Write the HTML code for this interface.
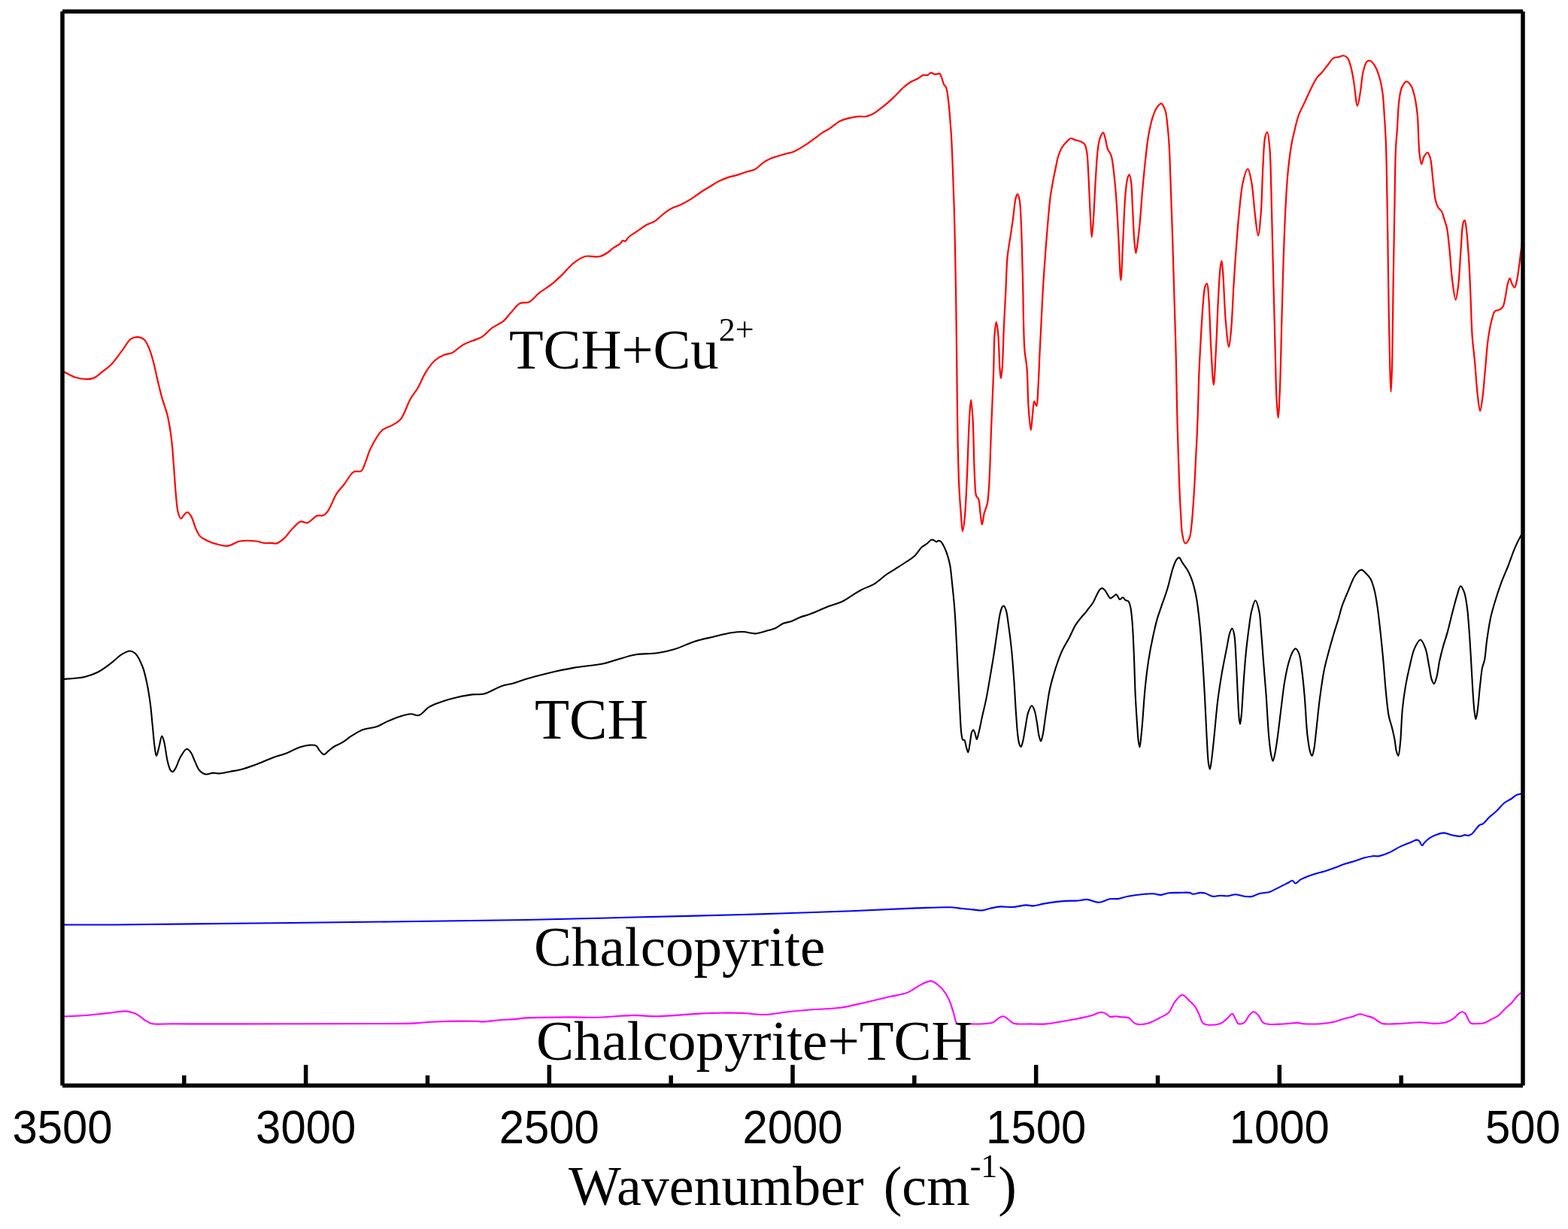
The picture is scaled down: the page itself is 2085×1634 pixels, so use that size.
<!DOCTYPE html>
<html><head><meta charset="utf-8"><title>FTIR spectra</title>
<style>html,body{margin:0;padding:0;background:#fff;}body{width:2085px;height:1634px;overflow:hidden;}svg{display:block;}</style>
</head><body>
<svg width="2085" height="1634" viewBox="0 0 2085 1634"><path d="M84.0,1229.5 C95.2,1229.5 122.4,1229.7 151.0,1229.5 C202.2,1229.2 285.7,1228.1 365.0,1227.2 C464.2,1226.0 611.6,1224.6 700.0,1223.0 C758.0,1221.9 795.9,1220.7 843.9,1219.5 C891.9,1218.3 939.8,1217.4 987.8,1216.0 C1035.8,1214.6 1089.8,1212.8 1131.7,1211.2 C1164.1,1209.9 1193.7,1208.2 1218.0,1207.4 C1235.7,1206.8 1252.6,1205.8 1264.0,1206.3 C1270.7,1206.6 1274.8,1207.5 1280.0,1208.0 C1284.8,1208.5 1289.6,1209.0 1294.1,1209.4 C1298.3,1209.8 1302.4,1210.7 1306.2,1210.4 C1309.7,1210.1 1312.6,1208.6 1316.3,1207.8 C1320.6,1206.9 1325.5,1205.7 1330.4,1205.4 C1335.6,1205.1 1341.0,1206.3 1346.5,1206.0 C1352.4,1205.7 1359.6,1203.5 1364.6,1203.4 C1368.1,1203.3 1370.3,1204.5 1373.7,1204.4 C1378.1,1204.2 1383.0,1202.3 1388.8,1201.4 C1396.7,1200.1 1408.9,1198.5 1417.0,1197.9 C1423.1,1197.4 1428.1,1197.9 1433.1,1197.5 C1437.4,1197.2 1440.9,1195.7 1445.2,1195.9 C1450.2,1196.2 1456.1,1200.0 1461.3,1199.8 C1466.2,1199.6 1470.8,1196.1 1475.4,1195.3 C1479.5,1194.6 1483.5,1195.5 1487.5,1194.9 C1491.6,1194.3 1494.9,1192.6 1499.6,1191.7 C1505.8,1190.5 1515.4,1189.2 1521.7,1188.7 C1526.3,1188.3 1530.0,1188.1 1533.8,1188.3 C1537.3,1188.5 1540.5,1190.1 1543.9,1189.9 C1547.3,1189.7 1550.3,1187.8 1554.0,1187.3 C1558.3,1186.7 1563.4,1187.0 1568.1,1186.9 C1572.8,1186.8 1579.0,1186.2 1582.2,1186.9 C1584.0,1187.3 1584.5,1188.5 1586.2,1188.7 C1588.8,1189.0 1593.4,1187.0 1596.3,1186.9 C1598.6,1186.8 1600.1,1186.9 1602.3,1187.5 C1605.3,1188.3 1609.0,1191.2 1612.4,1191.7 C1615.7,1192.2 1619.1,1190.8 1622.5,1190.7 C1625.8,1190.6 1629.2,1191.5 1632.5,1191.3 C1635.9,1191.1 1639.1,1189.3 1642.6,1189.3 C1646.5,1189.3 1650.8,1191.3 1654.7,1191.7 C1658.2,1192.1 1661.5,1192.5 1664.8,1191.9 C1668.2,1191.3 1671.2,1188.8 1674.8,1187.9 C1678.6,1186.9 1684.2,1187.0 1686.9,1186.3 C1688.3,1185.9 1688.6,1185.7 1690.0,1185.1 C1692.9,1183.8 1699.0,1180.6 1703.0,1178.6 C1706.5,1176.9 1710.0,1175.1 1712.8,1173.7 C1715.0,1172.6 1716.8,1170.6 1718.5,1170.8 C1720.1,1171.0 1721.0,1174.4 1722.6,1174.5 C1724.5,1174.6 1726.4,1171.2 1729.1,1169.6 C1732.9,1167.4 1738.5,1165.4 1743.8,1163.5 C1749.8,1161.4 1757.8,1159.5 1763.4,1157.7 C1767.7,1156.3 1770.9,1155.2 1774.8,1153.8 C1779.0,1152.3 1783.4,1150.3 1787.8,1148.8 C1792.1,1147.3 1796.6,1146.3 1800.9,1144.9 C1805.3,1143.5 1809.7,1141.7 1813.9,1140.6 C1817.8,1139.5 1821.9,1138.6 1825.4,1138.2 C1828.3,1137.9 1830.5,1138.7 1833.5,1138.2 C1837.4,1137.6 1842.1,1135.7 1846.6,1133.8 C1851.8,1131.5 1857.7,1127.5 1862.9,1125.1 C1867.4,1123.0 1872.1,1121.4 1875.9,1119.9 C1878.9,1118.7 1882.0,1116.5 1884.1,1116.6 C1885.4,1116.7 1886.3,1117.4 1887.3,1118.3 C1888.7,1119.6 1889.7,1124.2 1890.9,1124.3 C1891.9,1124.4 1892.6,1122.0 1893.8,1120.7 C1895.5,1118.9 1897.8,1116.5 1900.4,1114.7 C1903.2,1112.8 1906.9,1111.0 1910.2,1109.8 C1913.4,1108.6 1916.5,1107.4 1919.9,1107.4 C1923.6,1107.4 1927.5,1109.8 1931.4,1110.5 C1935.2,1111.2 1939.8,1112.1 1942.8,1111.8 C1944.8,1111.6 1946.0,1110.2 1947.7,1110.1 C1949.3,1110.0 1951.0,1111.1 1952.6,1110.9 C1954.3,1110.6 1955.7,1109.8 1957.4,1108.5 C1960.3,1106.2 1964.3,1099.2 1967.2,1097.1 C1968.9,1095.8 1970.4,1096.3 1972.1,1095.1 C1974.7,1093.4 1977.4,1089.3 1980.3,1086.5 C1983.3,1083.6 1986.9,1081.3 1990.1,1078.3 C1993.5,1075.1 1996.5,1070.5 2000.0,1067.7 C2003.1,1065.2 2006.7,1063.9 2009.6,1062.0 C2012.1,1060.4 2014.0,1058.2 2016.2,1057.1 C2018.1,1056.2 2020.3,1056.0 2021.9,1055.5 C2023.1,1055.1 2024.5,1054.7 2025.0,1054.5" stroke="#0000ff" stroke-width="2.1" fill="none" stroke-linejoin="round"/>
<path d="M84.5,1351.5 C88.7,1351.3 101.0,1350.9 109.7,1350.3 C119.2,1349.6 130.8,1348.3 139.5,1347.4 C146.2,1346.7 152.4,1345.8 157.3,1345.3 C160.8,1344.9 163.2,1344.3 166.2,1344.4 C169.2,1344.5 172.4,1345.1 175.2,1345.9 C177.8,1346.6 180.0,1347.4 182.6,1348.8 C185.9,1350.6 189.6,1354.5 193.0,1356.6 C196.0,1358.4 198.0,1360.1 201.9,1361.0 C208.3,1362.5 216.2,1361.2 228.7,1361.3 C258.2,1361.5 330.6,1361.4 377.4,1361.3 C419.2,1361.2 464.0,1361.2 496.3,1361.0 C518.6,1360.9 538.6,1361.1 552.8,1360.4 C561.4,1360.0 564.9,1359.1 573.6,1358.7 C588.3,1358.0 622.0,1357.5 633.1,1357.8 C637.4,1357.9 638.3,1358.5 642.0,1358.4 C648.0,1358.3 658.4,1356.6 665.8,1356.0 C672.2,1355.5 677.8,1355.5 683.6,1355.1 C689.2,1354.7 692.9,1353.8 700.0,1353.4 C713.3,1352.6 740.5,1352.5 757.6,1352.4 C771.4,1352.3 781.7,1353.0 795.0,1352.7 C810.2,1352.3 829.7,1350.0 843.9,1349.9 C854.8,1349.9 861.5,1351.4 872.7,1351.3 C888.6,1351.2 914.3,1348.4 930.2,1347.6 C941.4,1347.1 949.4,1346.8 959.0,1346.7 C968.6,1346.6 978.2,1346.6 987.8,1347.0 C997.4,1347.4 1006.9,1349.2 1016.5,1349.0 C1026.1,1348.8 1035.7,1346.6 1045.3,1345.5 C1054.9,1344.5 1063.5,1343.6 1074.1,1342.7 C1087.0,1341.6 1104.1,1341.6 1117.3,1339.8 C1128.7,1338.2 1138.1,1335.6 1148.9,1333.2 C1160.2,1330.7 1173.1,1327.6 1183.5,1325.1 C1191.9,1323.1 1199.6,1322.4 1206.5,1319.6 C1212.9,1317.1 1218.1,1312.2 1223.7,1309.6 C1228.6,1307.3 1233.7,1303.9 1238.1,1304.4 C1242.3,1304.8 1246.0,1308.3 1249.6,1311.6 C1253.9,1315.6 1258.1,1321.6 1261.2,1327.4 C1264.4,1333.5 1266.2,1341.6 1268.3,1347.6 C1270.0,1352.4 1269.5,1358.1 1272.7,1360.5 C1276.3,1363.2 1284.1,1361.3 1290.1,1361.4 C1296.6,1361.5 1304.7,1361.5 1310.3,1361.0 C1314.3,1360.6 1317.4,1360.7 1320.4,1359.4 C1323.4,1358.1 1325.9,1354.7 1328.4,1353.3 C1330.4,1352.2 1332.3,1351.1 1334.1,1351.3 C1336.0,1351.5 1337.6,1353.0 1339.5,1354.3 C1342.0,1355.9 1343.9,1359.1 1347.6,1360.4 C1353.1,1362.4 1363.3,1361.2 1370.7,1361.4 C1377.7,1361.6 1384.2,1361.9 1390.9,1361.4 C1397.6,1360.9 1404.3,1359.4 1411.0,1358.3 C1417.7,1357.2 1424.5,1356.0 1431.2,1354.7 C1437.9,1353.4 1445.4,1352.0 1451.3,1350.3 C1456.2,1348.9 1460.7,1345.7 1464.4,1345.7 C1467.1,1345.7 1469.6,1347.2 1471.5,1348.3 C1473.1,1349.2 1473.8,1351.1 1475.5,1351.7 C1477.6,1352.4 1480.8,1351.2 1483.5,1351.3 C1486.2,1351.4 1488.8,1352.0 1491.6,1352.3 C1494.5,1352.6 1497.9,1352.1 1500.7,1353.3 C1503.9,1354.7 1506.0,1359.6 1509.7,1361.0 C1514.1,1362.6 1520.5,1362.0 1525.8,1360.8 C1531.3,1359.5 1537.1,1355.9 1542.0,1353.3 C1546.4,1351.0 1550.7,1349.6 1554.0,1346.3 C1557.5,1342.7 1558.9,1336.2 1562.1,1332.2 C1565.0,1328.5 1568.8,1322.8 1572.2,1322.7 C1575.5,1322.6 1579.3,1328.6 1582.2,1331.2 C1584.5,1333.3 1586.4,1334.7 1588.3,1337.2 C1590.6,1340.2 1592.3,1344.5 1594.3,1348.3 C1596.4,1352.3 1596.7,1358.5 1600.4,1360.8 C1605.1,1363.8 1616.8,1362.9 1622.5,1361.0 C1626.8,1359.6 1629.7,1355.7 1632.6,1353.3 C1634.9,1351.4 1636.9,1347.7 1638.6,1347.9 C1640.2,1348.1 1641.4,1352.1 1642.7,1354.3 C1644.1,1356.5 1644.7,1360.1 1646.7,1361.0 C1648.7,1361.9 1652.5,1360.9 1654.8,1359.4 C1657.4,1357.7 1658.6,1352.8 1660.8,1350.3 C1662.7,1348.2 1664.8,1345.4 1666.9,1345.3 C1668.9,1345.2 1670.9,1347.4 1672.9,1349.3 C1675.6,1351.9 1676.7,1358.2 1681.0,1360.4 C1687.0,1363.6 1700.5,1361.4 1708.5,1361.2 C1714.8,1361.0 1720.7,1359.7 1725.3,1359.9 C1728.6,1360.0 1730.2,1360.9 1733.7,1361.2 C1739.3,1361.6 1748.7,1361.6 1755.5,1361.2 C1761.5,1360.8 1766.7,1360.2 1772.3,1359.0 C1777.9,1357.8 1784.4,1355.2 1789.1,1354.0 C1792.4,1353.1 1794.5,1352.9 1797.5,1352.0 C1800.9,1351.0 1804.9,1348.4 1808.4,1348.3 C1811.6,1348.2 1814.7,1349.9 1817.7,1350.8 C1820.6,1351.6 1823.1,1352.0 1826.0,1353.3 C1829.7,1355.0 1832.8,1359.3 1837.8,1360.7 C1844.7,1362.7 1856.0,1361.0 1864.7,1360.7 C1872.8,1360.4 1880.8,1359.1 1888.2,1359.2 C1894.7,1359.3 1900.6,1361.0 1906.6,1360.9 C1912.3,1360.8 1918.6,1360.5 1923.4,1359.0 C1927.3,1357.8 1930.7,1355.7 1933.5,1353.6 C1935.9,1351.9 1937.4,1349.2 1939.4,1347.8 C1941.0,1346.6 1942.8,1345.2 1944.4,1345.3 C1945.9,1345.4 1947.2,1346.4 1948.6,1347.8 C1950.9,1350.2 1952.1,1357.9 1955.3,1360.0 C1958.0,1361.8 1962.2,1360.9 1965.4,1360.9 C1968.3,1360.9 1971.1,1360.8 1973.8,1360.0 C1976.7,1359.1 1979.3,1357.2 1982.2,1355.7 C1985.4,1354.0 1989.0,1352.7 1992.2,1350.3 C1995.8,1347.6 1999.0,1343.3 2002.3,1340.2 C2005.2,1337.5 2008.2,1335.4 2010.7,1332.7 C2013.2,1330.1 2015.3,1326.4 2017.4,1324.3 C2018.9,1322.8 2020.2,1321.8 2021.6,1320.9 C2022.8,1320.1 2024.4,1319.3 2025.0,1319.0" stroke="#ff00ff" stroke-width="2.1" fill="none" stroke-linejoin="round"/>
<path d="M84.8,902.9 C87.2,902.7 94.5,902.3 99.2,901.8 C103.8,901.3 107.9,901.1 112.6,899.9 C118.1,898.5 124.3,896.5 129.9,893.7 C135.8,890.7 141.6,886.2 147.1,882.2 C152.5,878.2 157.7,872.5 162.5,869.7 C166.2,867.5 169.9,865.4 173.0,865.5 C175.5,865.6 177.6,866.8 179.8,868.8 C183.3,872.1 186.9,879.8 189.4,886.0 C192.1,892.5 193.4,899.5 195.1,907.1 C197.0,915.9 198.6,926.3 199.9,935.9 C201.2,945.5 201.8,955.1 202.8,964.7 C203.8,974.3 204.6,986.1 205.7,993.5 C206.4,998.2 207.1,1005.0 208.0,1005.0 C209.0,1005.0 210.3,997.6 211.4,993.5 C212.7,988.8 214.0,978.6 215.3,978.5 C216.2,978.4 217.2,982.5 218.1,985.8 C219.8,991.9 221.1,1005.7 222.9,1012.7 C224.1,1017.4 225.2,1022.1 226.8,1024.2 C227.6,1025.3 228.7,1026.2 229.6,1026.1 C230.9,1025.9 232.2,1023.5 233.5,1021.3 C235.7,1017.7 237.5,1010.4 240.2,1006.0 C242.6,1002.1 245.9,996.0 248.4,995.8 C250.2,995.6 252.0,998.1 253.6,1000.2 C255.8,1003.1 257.4,1008.6 259.4,1012.7 C261.3,1016.6 262.5,1021.3 265.1,1024.2 C267.4,1026.7 270.7,1029.0 273.8,1029.5 C276.8,1030.0 280.4,1027.7 283.4,1027.6 C286.1,1027.5 288.0,1028.5 291.0,1028.4 C295.2,1028.3 301.4,1026.6 306.4,1025.7 C311.0,1024.9 315.0,1024.4 319.8,1023.2 C325.7,1021.7 332.2,1019.4 339.0,1016.9 C346.8,1014.1 356.5,1009.5 363.9,1006.9 C369.6,1004.9 373.9,1004.1 379.3,1002.1 C385.4,999.8 392.6,995.4 398.5,993.5 C403.3,991.9 407.9,990.8 411.9,990.6 C415.1,990.4 418.3,990.3 420.5,991.6 C422.7,992.9 423.5,996.3 425.3,998.3 C427.0,1000.1 428.8,1003.0 430.7,1003.1 C432.6,1003.2 434.6,1000.0 436.8,998.3 C439.2,996.4 441.7,994.2 444.5,992.5 C447.4,990.7 450.6,989.8 454.1,987.7 C458.7,985.0 464.4,980.2 469.4,977.2 C474.0,974.4 478.0,971.8 483.0,970.0 C488.5,968.0 495.7,968.0 501.1,966.1 C505.9,964.4 509.3,961.7 514.0,959.6 C519.5,957.1 526.4,954.2 532.2,952.4 C537.2,950.9 542.0,949.4 546.4,949.3 C550.1,949.2 553.3,952.0 556.8,951.1 C561.4,949.9 565.9,942.7 571.0,939.7 C575.9,936.8 580.9,935.2 586.5,933.2 C592.9,931.0 600.3,928.9 607.3,927.3 C614.2,925.7 621.6,924.2 628.0,923.4 C633.5,922.7 637.9,923.9 643.5,922.6 C650.6,920.9 659.7,914.6 666.8,912.2 C672.4,910.3 677.2,910.1 682.4,908.6 C687.6,907.1 691.8,905.1 697.9,903.2 C706.4,900.6 718.4,897.4 729.0,894.9 C740.0,892.3 751.0,889.9 762.7,887.9 C775.1,885.7 791.5,884.6 801.5,882.5 C807.9,881.2 811.1,879.8 817.1,878.1 C825.2,875.9 836.0,871.9 845.6,870.3 C855.0,868.7 865.0,869.5 874.0,868.2 C882.2,867.0 889.5,865.4 897.4,863.0 C905.9,860.4 914.6,855.7 923.3,852.9 C931.8,850.2 940.7,848.5 949.1,846.5 C957.1,844.6 965.5,842.4 972.5,841.3 C978.2,840.4 982.8,839.8 988.0,840.0 C993.2,840.2 999.3,842.4 1003.6,842.4 C1006.7,842.4 1008.7,841.6 1011.5,841.0 C1014.7,840.3 1018.3,839.1 1021.6,838.1 C1024.8,837.2 1027.8,836.7 1030.9,835.3 C1034.5,833.7 1038.0,830.3 1041.7,828.8 C1045.0,827.4 1048.4,827.5 1051.8,826.3 C1055.6,825.0 1059.4,822.4 1063.3,820.9 C1067.1,819.4 1070.8,818.7 1074.8,817.3 C1079.4,815.7 1084.7,813.4 1089.2,811.5 C1093.3,809.8 1096.4,808.2 1100.7,806.5 C1106.1,804.4 1113.9,802.6 1119.4,800.0 C1124.3,797.7 1128.1,794.7 1132.4,792.1 C1136.7,789.5 1140.6,786.7 1145.3,784.2 C1150.6,781.4 1157.1,779.6 1162.6,776.3 C1168.2,772.9 1173.5,767.5 1178.4,764.0 C1182.5,761.2 1185.9,759.4 1189.9,756.8 C1194.4,753.9 1199.8,750.5 1204.3,747.5 C1208.4,744.8 1212.3,742.8 1215.8,739.6 C1219.5,736.2 1223.1,729.8 1225.9,727.3 C1227.4,725.9 1228.7,725.6 1230.0,724.7 C1231.3,723.8 1232.5,722.9 1233.8,721.8 C1235.3,720.5 1236.9,717.9 1238.5,717.5 C1239.8,717.2 1241.2,718.1 1242.3,718.6 C1243.4,719.1 1244.3,720.5 1245.2,720.5 C1245.9,720.5 1246.3,719.2 1247.1,719.0 C1248.1,718.8 1249.8,719.2 1250.9,719.9 C1252.1,720.7 1252.7,722.1 1253.7,723.7 C1255.2,726.3 1257.1,730.2 1258.5,734.2 C1260.3,739.1 1262.0,745.0 1263.2,751.3 C1264.6,758.7 1265.2,767.4 1266.1,775.9 C1267.1,785.0 1268.1,794.9 1268.9,804.4 C1269.7,813.9 1270.2,822.7 1270.8,832.9 C1271.5,844.7 1272.1,858.2 1272.7,870.9 C1273.3,883.5 1274.0,896.2 1274.6,908.8 C1275.2,921.5 1275.8,935.0 1276.5,946.8 C1277.1,957.0 1277.4,968.6 1278.4,975.3 C1278.9,979.0 1279.2,982.9 1280.3,983.8 C1280.8,984.2 1281.7,983.4 1282.3,983.8 C1283.6,984.8 1283.9,990.0 1284.8,992.9 C1285.6,995.5 1286.5,1000.3 1287.3,1000.3 C1288.3,1000.2 1289.0,992.2 1289.8,987.9 C1290.7,983.2 1291.0,976.1 1292.2,973.1 C1292.8,971.7 1293.6,970.2 1294.2,970.2 C1295.0,970.3 1295.7,972.9 1296.4,974.7 C1297.3,977.0 1298.0,983.0 1298.8,983.0 C1299.6,983.0 1300.4,978.2 1301.3,974.7 C1302.8,969.0 1304.6,959.2 1306.3,951.6 C1307.9,944.3 1309.6,937.8 1311.2,930.1 C1313.0,921.4 1314.6,911.5 1316.2,902.0 C1317.9,892.2 1319.6,882.4 1321.2,872.2 C1322.9,861.5 1324.6,849.0 1326.1,839.2 C1327.3,831.3 1328.1,823.6 1329.4,817.7 C1330.4,813.4 1331.4,808.7 1332.7,806.9 C1333.3,806.1 1334.1,805.4 1334.7,805.6 C1335.7,805.9 1336.8,808.6 1337.7,811.1 C1339.2,815.6 1339.9,823.4 1341.0,830.9 C1342.4,840.5 1343.9,852.3 1345.1,864.0 C1346.4,877.0 1347.4,891.5 1348.4,905.3 C1349.4,919.1 1350.0,933.8 1350.9,946.6 C1351.7,957.8 1352.4,970.1 1353.4,978.0 C1354.0,982.8 1354.5,987.0 1355.5,989.6 C1356.1,991.1 1356.9,993.0 1357.5,992.9 C1358.4,992.8 1359.2,989.1 1360.0,986.3 C1361.3,981.8 1362.1,974.4 1363.3,968.1 C1364.6,961.2 1365.4,952.0 1367.4,946.6 C1368.7,943.1 1370.7,938.3 1372.1,938.3 C1373.4,938.3 1374.7,942.2 1375.7,945.0 C1377.2,949.2 1378.0,956.0 1379.0,961.5 C1380.0,967.0 1380.4,973.6 1381.5,978.0 C1382.2,981.0 1383.2,985.5 1384.0,985.5 C1384.8,985.5 1385.6,981.3 1386.4,978.0 C1387.9,971.7 1389.1,959.5 1390.6,949.9 C1392.2,939.7 1393.6,927.7 1395.5,918.5 C1397.0,911.1 1398.7,905.1 1400.5,898.7 C1402.3,892.5 1404.2,886.4 1406.3,880.5 C1408.3,874.8 1410.3,869.4 1412.9,864.0 C1415.5,858.4 1419.1,853.0 1422.0,847.4 C1424.9,841.9 1427.4,835.5 1430.2,830.9 C1432.4,827.3 1434.6,824.6 1436.9,821.8 C1439.0,819.2 1441.5,816.8 1443.5,814.4 C1445.3,812.2 1446.8,810.0 1448.4,807.8 C1450.1,805.6 1451.9,803.7 1453.4,801.2 C1455.2,798.3 1456.7,794.3 1458.3,791.2 C1459.7,788.5 1460.9,785.3 1462.5,783.8 C1463.5,782.8 1464.7,782.0 1465.8,782.1 C1466.9,782.2 1468.0,783.4 1469.1,784.6 C1470.5,786.2 1471.9,789.3 1473.2,791.2 C1474.3,792.8 1475.2,795.2 1476.5,795.4 C1477.7,795.6 1479.4,793.8 1480.7,792.9 C1481.9,792.1 1483.0,790.3 1484.0,790.4 C1484.9,790.5 1485.6,791.9 1486.4,792.9 C1487.3,794.1 1487.8,796.8 1488.9,797.0 C1490.0,797.2 1491.8,794.0 1493.1,794.2 C1494.3,794.4 1495.1,797.0 1496.4,797.9 C1497.6,798.7 1499.4,798.4 1500.5,799.5 C1501.8,800.8 1502.3,803.3 1503.0,806.1 C1504.2,810.9 1504.8,818.0 1505.5,826.0 C1506.6,838.2 1507.2,856.5 1507.9,872.2 C1508.6,888.4 1508.9,906.0 1509.6,921.8 C1510.3,936.2 1511.3,951.6 1512.1,963.1 C1512.7,971.4 1512.9,979.0 1513.7,984.6 C1514.2,988.2 1514.9,993.5 1515.5,993.5 C1516.2,993.5 1516.9,983.4 1517.5,978.0 C1518.2,972.1 1518.6,967.0 1519.2,959.4 C1520.2,947.5 1521.3,928.0 1522.8,913.6 C1524.1,900.6 1525.6,888.3 1527.4,876.8 C1529.0,866.5 1530.9,856.7 1532.9,847.5 C1534.7,839.1 1536.5,830.8 1538.5,823.6 C1540.2,817.5 1542.0,813.1 1544.0,807.1 C1546.4,799.9 1549.7,791.5 1552.2,783.2 C1554.9,774.4 1557.2,762.7 1559.6,755.7 C1561.1,751.1 1562.4,747.2 1564.1,744.7 C1565.2,743.1 1566.6,741.2 1567.8,741.4 C1569.4,741.6 1570.7,745.9 1572.4,748.4 C1574.3,751.2 1576.8,754.0 1578.8,757.5 C1581.2,761.7 1583.4,766.7 1585.3,772.2 C1587.5,778.7 1589.2,785.9 1590.8,794.2 C1592.8,804.8 1594.1,818.0 1595.4,831.0 C1596.9,845.4 1597.9,861.5 1599.0,876.8 C1600.1,892.1 1600.9,906.7 1601.8,922.7 C1602.8,940.2 1603.6,961.3 1604.5,977.8 C1605.3,991.3 1605.8,1006.6 1606.9,1014.5 C1607.5,1018.3 1608.2,1022.8 1608.8,1022.8 C1609.5,1022.8 1610.3,1015.8 1611.0,1010.8 C1612.2,1002.5 1613.4,989.7 1614.6,977.8 C1616.1,963.8 1617.4,946.3 1619.2,931.9 C1620.8,919.0 1622.7,907.1 1624.7,895.2 C1626.6,883.9 1629.1,872.1 1631.1,862.2 C1632.7,854.1 1633.9,844.6 1635.7,840.1 C1636.6,837.9 1637.7,835.4 1638.5,835.5 C1639.6,835.6 1640.5,840.1 1641.2,843.8 C1642.6,851.1 1642.9,864.9 1643.6,876.8 C1644.4,890.8 1645.1,908.6 1645.8,922.7 C1646.4,934.6 1646.9,948.9 1647.7,955.8 C1648.1,959.0 1648.6,962.7 1649.0,962.7 C1649.6,962.7 1650.2,955.5 1650.8,950.3 C1651.7,941.3 1652.3,926.5 1653.2,913.6 C1654.2,899.2 1655.4,881.5 1656.8,867.7 C1657.9,856.3 1659.2,846.2 1660.5,836.5 C1661.7,828.0 1662.5,819.5 1664.2,812.6 C1665.6,807.2 1667.6,798.3 1669.3,798.3 C1671.0,798.3 1673.1,807.0 1674.3,812.6 C1676.0,820.2 1676.1,830.3 1677.0,840.1 C1678.0,851.4 1678.8,863.9 1679.8,876.8 C1680.9,891.2 1682.3,906.7 1683.5,922.7 C1684.8,940.2 1685.8,963.2 1687.1,977.8 C1688.0,987.4 1688.7,995.5 1689.9,1001.7 C1690.7,1005.8 1691.7,1011.8 1692.6,1011.8 C1693.5,1011.8 1694.5,1005.8 1695.4,1001.7 C1696.7,995.5 1697.9,986.6 1699.1,977.8 C1700.6,966.9 1702.1,953.2 1703.6,941.1 C1705.1,929.3 1706.4,916.9 1708.2,906.2 C1709.8,896.9 1711.5,887.8 1713.7,880.5 C1715.4,874.8 1717.3,868.9 1719.3,865.8 C1720.4,864.0 1721.7,862.1 1722.9,862.2 C1724.4,862.4 1726.3,866.3 1727.5,869.5 C1729.5,874.7 1730.1,883.2 1731.2,891.5 C1732.6,902.2 1733.8,915.0 1734.9,928.2 C1736.2,943.5 1736.9,964.6 1738.5,977.8 C1739.6,986.6 1740.7,995.1 1742.2,999.8 C1742.9,1002.2 1743.9,1005.1 1744.6,1005.0 C1745.5,1004.9 1746.4,1000.0 1747.2,996.2 C1748.6,989.6 1749.3,978.7 1750.5,968.6 C1751.9,956.4 1753.3,941.3 1755.0,928.2 C1756.7,915.7 1758.4,902.6 1760.6,891.5 C1762.5,882.1 1764.7,874.3 1767.0,865.8 C1769.3,857.2 1772.0,847.9 1774.3,840.1 C1776.3,833.5 1778.3,827.8 1780.0,822.0 C1781.5,816.8 1782.3,812.4 1784.1,807.1 C1786.2,800.8 1789.3,793.8 1792.2,786.9 C1795.3,779.6 1798.5,769.7 1802.3,764.6 C1804.8,761.2 1807.9,757.6 1810.4,757.6 C1812.6,757.6 1814.6,760.7 1816.5,762.6 C1818.6,764.7 1820.8,766.7 1822.5,769.7 C1824.7,773.6 1826.2,779.2 1827.6,784.8 C1829.3,791.5 1830.4,798.8 1831.6,807.1 C1833.1,817.3 1834.4,829.5 1835.7,841.4 C1837.1,854.3 1838.5,868.3 1839.7,881.8 C1840.9,895.3 1841.8,909.7 1843.1,922.2 C1844.2,933.0 1845.2,944.3 1846.8,952.5 C1847.9,958.2 1849.6,961.8 1850.8,966.7 C1852.1,971.9 1853.4,977.4 1854.4,982.8 C1855.4,988.2 1855.8,995.0 1856.9,999.0 C1857.6,1001.5 1858.6,1005.1 1859.3,1005.0 C1860.4,1004.9 1861.1,995.7 1861.9,988.9 C1863.2,977.4 1863.5,956.2 1864.9,942.4 C1866.0,931.2 1867.4,921.6 1869.0,912.1 C1870.5,903.6 1872.0,896.1 1874.0,887.9 C1876.1,879.3 1878.0,868.3 1881.1,861.6 C1883.3,856.9 1886.4,850.4 1888.8,850.5 C1891.1,850.6 1893.5,857.0 1895.3,861.6 C1897.7,868.0 1898.8,878.4 1900.3,885.9 C1901.6,892.4 1902.4,899.9 1903.9,904.0 C1904.8,906.3 1905.8,909.2 1906.8,909.1 C1908.0,909.0 1909.3,903.8 1910.4,900.0 C1912.0,894.3 1912.8,885.0 1914.4,877.8 C1915.9,870.9 1917.7,863.9 1919.5,857.6 C1921.1,851.9 1922.8,847.6 1924.5,841.4 C1926.8,833.3 1929.3,821.9 1931.6,813.1 C1933.7,805.2 1935.7,797.1 1937.7,790.9 C1939.2,786.3 1940.4,779.4 1942.1,779.2 C1943.5,779.1 1945.5,783.6 1946.8,786.9 C1948.8,791.9 1949.7,799.4 1950.8,807.1 C1952.2,817.0 1952.9,829.5 1953.8,841.4 C1954.8,854.3 1955.5,868.0 1956.3,881.8 C1957.2,896.3 1958.0,914.0 1958.9,926.3 C1959.5,935.0 1960.1,943.0 1960.9,948.5 C1961.4,951.7 1961.9,956.2 1962.5,956.2 C1963.3,956.2 1964.2,947.9 1965.0,942.4 C1966.1,934.3 1966.9,921.6 1968.0,912.1 C1969.0,903.6 1969.7,894.2 1971.0,887.9 C1971.9,883.8 1973.1,882.0 1974.0,877.8 C1975.4,871.1 1975.8,860.6 1977.1,851.5 C1978.5,841.7 1980.1,830.5 1982.1,821.2 C1983.9,813.2 1985.9,806.5 1988.2,799.0 C1990.6,791.1 1993.4,782.6 1996.3,774.7 C1999.1,767.1 2002.4,760.1 2005.4,752.5 C2008.5,744.6 2011.3,735.5 2014.4,728.3 C2017.0,722.3 2020.5,715.6 2022.5,712.0 C2023.5,710.2 2024.6,708.7 2025.0,708.0" stroke="#000000" stroke-width="2.1" fill="none" stroke-linejoin="round"/>
<path d="M83.9,493.7 C86.5,495.0 94.4,499.8 99.6,501.5 C104.2,503.0 109.0,503.8 113.3,504.0 C117.1,504.1 120.5,504.2 124.0,502.9 C128.3,501.3 132.7,496.9 136.8,493.7 C140.8,490.6 144.6,487.9 148.5,483.9 C153.2,479.1 157.9,471.9 162.3,466.2 C166.4,460.9 169.9,453.4 174.0,450.6 C176.8,448.7 179.9,448.1 182.8,448.2 C185.8,448.3 189.2,449.5 191.6,451.5 C194.2,453.7 195.7,457.4 197.5,461.3 C199.8,466.2 201.6,472.5 203.4,479.0 C205.6,486.7 207.3,496.1 209.3,504.4 C211.2,512.4 212.9,519.9 215.1,527.9 C217.4,536.3 220.9,544.5 223.0,553.4 C225.2,562.8 226.6,572.7 227.9,582.8 C229.3,593.5 229.9,604.5 230.8,616.0 C231.8,628.5 232.6,643.5 233.7,655.2 C234.6,664.6 235.0,674.5 236.7,680.7 C237.7,684.5 239.0,689.3 240.6,689.5 C242.0,689.7 243.8,685.1 245.5,683.6 C246.8,682.5 248.1,680.9 249.4,681.1 C251.0,681.3 252.8,684.1 254.3,686.6 C256.6,690.3 258.1,697.5 260.2,702.2 C262.0,706.2 263.4,710.2 266.1,713.0 C268.7,715.7 272.2,717.2 275.8,718.9 C279.9,720.9 284.9,722.7 289.6,723.8 C294.1,724.9 298.7,726.3 303.3,725.7 C308.4,725.1 313.2,720.6 318.9,719.5 C325.4,718.3 334.4,718.8 340.5,719.5 C345.0,720.0 348.9,721.9 352.2,722.2 C354.5,722.4 355.9,721.8 358.1,721.8 C361.0,721.8 364.8,723.2 367.9,722.4 C371.3,721.5 374.5,718.7 377.7,715.9 C381.7,712.4 385.4,706.1 389.4,702.2 C392.9,698.8 396.4,694.3 400.0,693.4 C402.9,692.7 405.8,695.8 408.8,695.1 C412.8,694.2 417.4,687.3 421.4,685.8 C424.4,684.7 427.7,686.3 430.2,685.1 C432.7,683.9 434.3,681.8 436.4,678.8 C440.0,673.8 443.7,662.4 447.7,656.2 C450.9,651.2 454.3,648.2 457.8,643.7 C461.8,638.7 465.8,630.0 470.3,627.4 C473.5,625.6 477.8,627.9 480.3,626.1 C482.9,624.2 483.7,620.1 485.4,616.1 C487.8,610.6 489.5,602.8 492.9,596.0 C496.8,588.2 502.1,577.5 507.9,572.2 C512.4,568.1 518.6,567.3 523.0,564.6 C526.8,562.2 529.9,560.9 533.0,557.1 C537.7,551.3 541.4,538.2 545.6,530.8 C548.9,524.9 552.4,521.2 555.6,515.7 C559.2,509.6 561.8,501.8 565.7,495.6 C569.4,489.7 573.6,483.4 578.2,479.3 C582.1,475.8 586.7,473.5 590.8,471.8 C594.2,470.4 597.4,470.9 600.8,469.3 C605.2,467.2 609.9,462.0 614.6,459.2 C619.1,456.6 623.9,454.9 628.4,453.0 C632.7,451.2 636.9,450.4 640.9,447.9 C645.3,445.1 648.9,440.1 653.5,436.6 C658.4,432.9 665.4,430.3 669.8,426.6 C673.5,423.5 675.4,420.1 678.6,416.6 C682.4,412.5 686.5,405.9 691.1,403.5 C695.0,401.5 699.8,403.4 703.7,401.5 C708.2,399.3 711.6,393.9 716.2,390.2 C721.5,386.0 728.5,381.9 733.8,377.7 C738.4,374.0 741.8,370.6 746.3,366.4 C751.7,361.2 757.9,353.2 763.9,348.8 C768.9,345.1 774.1,341.9 779.0,340.8 C783.2,339.8 788.0,341.4 791.5,341.3 C794.0,341.3 795.7,341.5 798.1,340.8 C801.2,339.9 805.4,337.5 808.4,335.5 C811.0,333.8 812.8,331.6 815.3,329.8 C818.1,327.8 822.3,325.9 824.5,324.0 C826.1,322.6 826.7,320.3 828.0,319.9 C829.0,319.5 830.3,321.0 831.4,320.6 C833.0,320.1 833.9,317.2 836.0,315.3 C839.3,312.4 845.7,308.5 849.9,305.6 C853.3,303.2 855.8,301.1 859.1,299.2 C862.6,297.2 866.8,296.5 870.6,294.1 C875.2,291.2 880.2,285.7 884.4,282.6 C887.7,280.2 890.3,278.5 893.6,276.8 C897.1,275.0 901.2,274.1 905.1,272.2 C909.6,270.1 914.4,267.4 918.9,264.6 C923.6,261.7 928.3,257.9 932.7,255.0 C936.7,252.4 940.4,250.3 944.2,248.0 C948.0,245.7 951.6,243.2 955.7,241.1 C960.0,238.9 965.4,236.8 969.6,235.4 C972.9,234.3 975.4,234.1 978.8,233.1 C983.0,231.9 988.2,229.9 992.6,228.5 C996.6,227.2 1000.4,226.9 1004.1,225.0 C1008.1,222.9 1011.9,218.3 1015.6,215.8 C1018.7,213.7 1021.0,212.4 1024.8,210.8 C1030.2,208.5 1040.0,205.9 1045.5,204.3 C1049.2,203.3 1051.4,203.3 1054.7,202.0 C1058.9,200.3 1064.0,197.2 1068.5,194.4 C1073.2,191.5 1078.0,187.9 1082.4,184.7 C1086.4,181.8 1090.2,178.6 1093.9,176.2 C1097.1,174.1 1099.8,173.0 1103.1,170.9 C1107.3,168.2 1112.3,163.3 1116.9,161.0 C1120.8,159.0 1124.4,158.1 1128.4,157.1 C1132.5,156.0 1137.1,155.2 1141.1,154.8 C1144.7,154.5 1148.1,155.4 1151.4,154.8 C1154.6,154.2 1157.6,152.9 1160.6,151.4 C1163.8,149.8 1166.6,147.5 1169.8,145.1 C1173.5,142.4 1177.7,139.0 1181.3,135.9 C1184.6,133.0 1187.3,130.3 1190.5,127.2 C1194.2,123.7 1198.3,118.9 1202.1,115.7 C1205.2,113.0 1208.2,110.7 1211.3,108.8 C1214.2,107.1 1217.2,106.2 1220.0,104.7 C1222.7,103.2 1225.1,100.6 1227.6,99.9 C1229.6,99.3 1231.6,100.4 1233.3,99.9 C1235.0,99.4 1236.5,96.8 1238.0,96.7 C1239.3,96.6 1240.4,98.1 1241.8,98.4 C1243.3,98.7 1245.2,98.6 1246.6,98.4 C1247.7,98.3 1248.6,97.3 1249.4,97.7 C1250.6,98.3 1251.4,101.5 1252.3,103.7 C1253.3,106.3 1253.9,110.1 1255.1,112.3 C1255.9,113.9 1257.2,114.4 1258.0,116.1 C1259.2,118.8 1259.6,123.0 1260.3,127.5 C1261.3,133.8 1262.0,142.5 1262.7,150.2 C1263.4,158.3 1264.0,166.4 1264.6,174.9 C1265.2,184.1 1265.6,193.2 1266.1,203.4 C1266.6,215.2 1267.0,228.7 1267.5,241.4 C1267.9,254.1 1268.4,265.8 1268.8,279.4 C1269.3,295.1 1269.6,313.2 1270.0,330.0 C1270.3,346.7 1270.6,363.5 1270.9,380.0 C1271.2,396.2 1271.4,410.3 1271.6,428.2 C1271.9,450.9 1272.2,479.5 1272.5,505.1 C1272.8,530.7 1273.0,557.5 1273.5,582.0 C1274.0,604.4 1274.4,627.5 1275.3,646.2 C1276.0,660.6 1277.0,673.6 1277.9,684.6 C1278.6,692.9 1279.0,706.4 1279.9,706.4 C1280.7,706.4 1282.0,695.9 1282.8,688.2 C1284.2,674.8 1284.9,653.0 1285.9,633.1 C1287.0,609.7 1287.8,575.2 1289.0,556.6 C1289.7,546.0 1290.4,531.5 1291.1,531.5 C1291.9,531.5 1292.8,545.9 1293.5,556.6 C1294.7,575.2 1294.9,614.3 1296.0,633.1 C1296.6,644.1 1296.3,654.1 1298.1,659.1 C1298.9,661.4 1300.4,661.5 1301.2,663.7 C1302.7,667.7 1302.8,676.3 1303.6,682.1 C1304.3,687.4 1304.9,697.4 1305.8,697.4 C1306.7,697.4 1307.6,686.9 1308.8,682.1 C1309.9,677.7 1311.8,674.5 1312.8,669.8 C1314.1,663.7 1314.3,657.7 1315.0,648.4 C1316.3,630.8 1317.0,597.4 1318.0,571.9 C1319.0,546.4 1320.3,518.4 1321.1,495.4 C1321.8,476.4 1321.6,455.6 1322.6,443.4 C1323.2,436.8 1324.0,428.1 1324.8,428.1 C1325.6,428.1 1326.5,436.9 1327.2,443.4 C1328.3,454.6 1328.6,478.5 1329.4,489.3 C1329.9,495.2 1330.4,503.0 1330.9,503.0 C1331.5,503.0 1332.2,495.4 1332.7,489.3 C1333.7,477.1 1334.1,451.7 1334.9,434.2 C1335.6,418.2 1336.5,403.6 1337.3,388.3 C1338.1,373.0 1338.2,356.1 1339.5,342.4 C1340.6,331.1 1342.6,321.1 1344.0,311.8 C1345.1,304.0 1346.0,298.0 1347.1,290.4 C1348.3,281.8 1349.1,268.1 1350.8,262.8 C1351.5,260.5 1352.5,258.1 1353.2,258.2 C1354.1,258.3 1355.0,262.4 1355.7,265.9 C1357.0,272.7 1357.2,284.0 1357.8,296.5 C1358.8,316.3 1359.3,346.3 1360.0,373.0 C1360.8,402.2 1360.8,444.0 1362.4,464.8 C1363.2,475.6 1364.7,479.6 1365.5,489.3 C1366.7,503.4 1366.5,526.3 1367.6,541.3 C1368.4,552.9 1369.7,571.9 1370.7,571.9 C1371.5,571.9 1372.3,557.2 1373.1,550.5 C1373.8,544.5 1374.1,533.8 1375.3,533.6 C1376.1,533.5 1377.5,539.9 1378.3,539.8 C1379.8,539.5 1379.8,525.1 1380.4,515.8 C1381.3,503.0 1381.8,484.9 1382.5,470.0 C1383.2,455.8 1383.9,442.2 1384.6,428.3 C1385.3,414.4 1385.9,400.9 1386.7,386.7 C1387.6,371.8 1388.8,354.1 1389.8,340.8 C1390.5,330.6 1391.2,322.6 1391.9,313.8 C1392.6,305.3 1393.2,297.3 1394.0,288.8 C1394.8,279.9 1395.6,270.1 1396.7,261.7 C1397.7,254.3 1398.9,247.7 1400.2,240.8 C1401.5,233.8 1403.2,225.8 1404.4,220.0 C1405.3,215.8 1405.6,212.7 1406.8,209.0 C1408.1,204.9 1409.9,199.8 1412.0,196.3 C1413.7,193.4 1415.8,191.1 1417.9,189.0 C1419.8,187.1 1421.7,184.4 1423.8,184.0 C1425.6,183.7 1427.5,185.4 1429.6,186.1 C1431.9,186.8 1434.8,187.1 1437.0,188.1 C1439.0,189.1 1441.0,190.0 1442.3,191.9 C1444.0,194.3 1444.4,197.8 1445.2,202.2 C1446.5,209.4 1446.6,220.5 1447.3,231.6 C1448.1,246.0 1448.8,266.5 1449.6,281.5 C1450.3,293.8 1450.9,315.2 1451.7,315.2 C1452.4,315.2 1453.3,300.2 1454.0,290.3 C1455.1,276.0 1455.8,254.2 1456.9,237.4 C1457.9,222.1 1458.7,203.7 1460.5,193.4 C1461.5,187.7 1462.5,183.2 1464.0,180.2 C1464.9,178.4 1466.0,176.3 1466.9,176.4 C1468.1,176.6 1469.0,181.5 1469.9,184.6 C1471.0,188.4 1471.4,193.9 1472.8,197.8 C1474.0,201.1 1476.2,202.9 1477.5,206.6 C1479.4,212.2 1480.0,220.2 1481.0,228.6 C1482.4,239.6 1483.5,253.0 1484.5,266.8 C1485.7,283.0 1486.5,302.0 1487.5,319.6 C1488.5,337.2 1489.4,372.5 1490.4,372.5 C1491.4,372.5 1492.3,337.7 1493.3,319.6 C1494.3,300.5 1495.0,276.0 1496.3,260.9 C1497.1,251.3 1497.8,242.3 1499.2,237.4 C1499.9,235.0 1500.9,232.1 1501.6,232.2 C1502.5,232.3 1503.3,236.7 1503.9,240.4 C1505.2,248.0 1505.3,263.2 1506.0,275.6 C1506.8,289.4 1507.3,308.3 1508.3,319.6 C1508.9,326.6 1509.6,336.7 1510.4,336.7 C1511.1,336.7 1511.9,328.3 1512.7,322.6 C1513.9,314.0 1515.2,301.5 1516.2,290.3 C1517.3,278.1 1518.0,265.3 1519.2,252.1 C1520.5,237.9 1522.1,221.3 1523.6,208.1 C1524.8,197.3 1525.6,188.2 1527.4,178.7 C1529.1,169.6 1531.3,159.1 1533.9,152.3 C1535.6,147.7 1537.6,143.6 1539.7,141.1 C1541.1,139.4 1542.7,137.3 1544.1,137.6 C1546.0,138.0 1548.1,142.9 1549.4,146.7 C1551.3,152.1 1551.7,160.2 1552.5,167.5 C1553.4,175.4 1554.0,183.1 1554.6,192.5 C1555.4,204.6 1555.8,220.3 1556.3,234.2 C1556.8,248.1 1557.2,261.9 1557.7,275.8 C1558.2,289.7 1558.7,303.6 1559.2,317.5 C1559.6,331.4 1560.0,345.4 1560.4,359.2 C1560.8,372.9 1561.2,386.5 1561.6,400.0 C1562.0,413.4 1562.4,426.9 1562.8,440.0 C1563.2,452.6 1563.5,463.4 1563.8,477.0 C1564.2,493.9 1564.5,514.8 1564.9,533.7 C1565.3,552.7 1565.8,571.6 1566.4,590.6 C1567.0,609.6 1567.6,630.5 1568.3,647.5 C1568.9,661.4 1569.5,674.1 1570.2,685.4 C1570.8,694.5 1570.8,703.2 1572.1,710.0 C1573.0,714.9 1574.1,722.0 1575.9,722.4 C1577.4,722.7 1580.1,718.7 1581.5,715.7 C1583.4,711.5 1583.6,704.8 1584.4,698.7 C1585.3,691.7 1585.7,683.9 1586.3,675.9 C1587.0,667.0 1587.6,657.7 1588.2,647.5 C1588.9,635.8 1589.5,622.2 1590.1,609.6 C1590.7,597.0 1591.5,584.3 1592.0,571.7 C1592.5,559.0 1592.9,546.4 1593.3,533.7 C1593.7,521.1 1593.9,508.1 1594.4,495.8 C1594.9,484.2 1595.4,474.8 1596.1,462.1 C1597.0,445.6 1598.3,420.4 1599.6,405.3 C1600.5,395.3 1600.8,384.9 1602.5,380.5 C1603.2,378.7 1604.3,376.8 1605.0,377.0 C1606.5,377.4 1606.7,389.2 1607.4,398.2 C1608.6,413.8 1609.1,442.2 1610.3,462.1 C1611.3,479.7 1612.7,511.7 1613.8,511.7 C1614.8,511.7 1615.8,485.1 1616.7,469.1 C1617.9,448.5 1618.8,418.8 1619.9,398.2 C1620.8,382.2 1621.5,364.6 1622.7,355.7 C1623.2,351.6 1624.0,346.8 1624.5,346.8 C1625.2,346.8 1625.6,355.7 1626.2,362.8 C1627.4,377.0 1628.2,408.6 1629.8,426.6 C1631.0,439.9 1632.7,461.3 1634.0,461.3 C1635.0,461.3 1636.0,449.5 1636.9,440.8 C1638.4,426.0 1639.2,400.0 1640.4,380.5 C1641.5,362.2 1642.7,344.0 1644.0,327.3 C1645.1,312.3 1646.0,299.0 1647.5,284.8 C1649.0,270.6 1650.2,253.2 1652.8,242.2 C1654.5,234.9 1657.3,224.4 1659.2,224.5 C1661.1,224.6 1662.8,235.0 1664.2,242.2 C1666.3,253.3 1667.2,272.1 1668.8,284.8 C1670.1,295.2 1671.7,313.1 1673.0,313.1 C1674.3,313.1 1675.6,296.2 1676.6,284.8 C1678.1,267.8 1678.3,239.6 1679.4,220.9 C1680.3,206.3 1680.5,189.3 1682.3,181.9 C1683.1,178.8 1684.3,175.4 1685.1,175.5 C1686.5,175.7 1687.5,187.6 1688.3,196.1 C1689.6,209.8 1689.7,230.9 1690.3,250.0 C1691.0,271.8 1691.4,295.9 1692.0,320.0 C1692.6,345.8 1693.3,373.3 1694.0,400.0 C1694.7,426.7 1695.4,456.5 1696.0,480.0 C1696.5,498.6 1696.7,516.1 1697.5,530.0 C1698.1,539.9 1698.9,555.5 1699.6,555.5 C1700.4,555.5 1701.3,531.2 1702.0,515.0 C1703.0,490.9 1703.6,453.6 1704.4,425.0 C1705.1,398.9 1705.7,375.0 1706.5,350.0 C1707.4,325.0 1708.3,296.8 1709.5,275.0 C1710.4,258.1 1711.1,244.1 1712.5,230.0 C1713.7,217.3 1715.3,204.1 1717.0,194.0 C1718.2,186.6 1719.4,181.5 1721.0,175.0 C1722.7,167.9 1724.4,159.9 1726.9,153.0 C1729.3,146.5 1732.8,140.5 1735.5,134.6 C1738.0,129.1 1740.2,124.0 1742.8,118.7 C1745.5,113.4 1748.5,106.7 1751.4,102.8 C1753.4,100.1 1755.4,99.1 1757.5,96.7 C1760.2,93.6 1763.3,89.1 1766.1,85.7 C1768.6,82.6 1770.6,78.7 1773.4,77.1 C1775.7,75.8 1778.5,76.2 1780.8,75.6 C1782.8,75.1 1784.5,73.8 1786.3,74.0 C1788.2,74.2 1790.3,75.3 1791.8,77.1 C1794.1,79.8 1795.3,85.6 1796.7,90.6 C1798.3,96.5 1799.2,102.9 1800.4,110.2 C1801.9,119.3 1803.4,140.8 1805.0,140.8 C1806.3,140.8 1807.7,129.1 1808.9,122.4 C1810.3,114.3 1810.8,102.9 1812.6,95.5 C1813.9,90.1 1815.3,84.1 1817.5,82.0 C1818.7,80.8 1820.3,80.4 1821.8,80.8 C1824.0,81.4 1826.6,85.0 1828.5,88.1 C1831.0,92.2 1833.0,98.4 1834.6,104.0 C1836.3,109.8 1837.3,115.5 1838.3,122.4 C1839.6,131.3 1840.1,142.8 1840.8,153.0 C1841.5,163.2 1842.1,173.3 1842.6,183.6 C1843.1,194.0 1843.3,201.5 1843.6,215.0 C1844.2,239.7 1844.8,285.0 1845.4,320.0 C1845.9,355.0 1846.3,393.7 1846.9,425.0 C1847.4,450.4 1847.8,476.3 1848.4,494.0 C1848.8,505.1 1849.2,521.0 1849.6,521.0 C1850.1,521.0 1850.7,500.1 1851.1,485.0 C1851.8,459.2 1852.1,415.0 1852.6,380.0 C1853.2,345.0 1853.8,307.1 1854.4,275.0 C1854.9,247.9 1855.0,219.1 1855.9,200.0 C1856.4,188.2 1857.2,181.5 1857.9,171.4 C1858.7,159.9 1859.0,144.7 1860.3,134.6 C1861.3,127.4 1861.9,121.0 1864.0,116.3 C1865.6,112.9 1867.9,108.5 1870.1,108.3 C1872.1,108.1 1874.6,111.2 1876.3,113.8 C1878.6,117.3 1879.8,122.9 1881.1,128.5 C1882.8,135.6 1883.8,143.4 1884.8,153.0 C1886.2,166.8 1886.0,191.5 1887.4,203.3 C1888.2,209.8 1889.0,218.3 1890.2,218.4 C1891.2,218.5 1892.1,210.6 1893.7,207.9 C1895.0,205.7 1897.1,202.6 1898.4,202.8 C1899.8,203.0 1900.9,206.8 1901.9,210.2 C1903.7,216.4 1904.2,228.8 1905.3,238.1 C1906.5,247.4 1907.2,259.1 1908.8,266.0 C1909.8,270.2 1910.7,273.1 1912.3,275.8 C1913.6,278.0 1915.7,279.0 1917.0,281.2 C1918.6,284.0 1919.4,288.0 1920.5,291.6 C1921.7,295.4 1923.0,298.5 1924.0,303.3 C1925.5,310.6 1926.3,321.1 1927.4,331.2 C1928.7,343.2 1929.4,358.7 1930.9,370.7 C1932.2,380.8 1934.1,398.6 1935.6,398.6 C1936.8,398.6 1938.1,387.7 1939.1,380.0 C1940.7,367.6 1941.4,346.1 1942.6,331.2 C1943.6,318.6 1943.8,301.8 1945.6,296.3 C1946.2,294.4 1947.1,292.7 1947.7,292.8 C1948.8,293.0 1949.3,300.2 1950.0,305.6 C1951.2,314.7 1952.1,329.7 1953.0,342.8 C1954.0,357.4 1954.6,372.9 1955.3,389.3 C1956.1,407.6 1956.5,430.5 1957.7,447.4 C1958.6,460.5 1960.1,470.1 1961.2,482.3 C1962.4,495.6 1963.3,512.5 1964.7,524.2 C1965.7,532.8 1966.9,546.3 1968.1,546.3 C1969.2,546.3 1970.6,534.2 1971.6,526.5 C1973.0,516.1 1973.9,501.7 1975.1,489.3 C1976.3,476.9 1977.0,463.3 1978.6,452.1 C1979.9,442.7 1981.4,433.5 1983.3,426.5 C1984.7,421.4 1985.6,415.9 1987.9,413.7 C1989.5,412.2 1992.0,412.9 1993.7,411.9 C1995.5,410.9 1997.2,409.9 1998.4,407.9 C2000.3,404.8 2000.8,399.0 2001.9,394.0 C2003.1,388.2 2003.9,379.5 2005.3,375.3 C2006.0,373.0 2006.9,370.2 2007.7,370.2 C2008.7,370.2 2009.5,375.6 2010.7,377.7 C2011.7,379.5 2013.0,382.4 2014.0,382.3 C2015.3,382.1 2016.1,376.8 2017.0,373.0 C2018.4,367.0 2019.5,357.1 2020.5,349.8 C2021.4,343.3 2022.0,336.9 2022.8,331.2 C2023.5,326.4 2024.6,320.2 2025.0,318.0" stroke="#ff0000" stroke-width="2.2" fill="none" stroke-linejoin="round"/>
<g stroke="#000" stroke-width="5.50" stroke-linecap="butt" fill="none"><line x1="83.00" y1="15.25" x2="83.00" y2="1443.30"/><line x1="2025.00" y1="15.25" x2="2025.00" y2="1443.30"/><line x1="83.00" y1="15.25" x2="2025.00" y2="15.25"/><line x1="83.00" y1="1443.30" x2="2025.00" y2="1443.30"/><line x1="244.83" y1="1429.70" x2="244.83" y2="1443.30"/><line x1="406.67" y1="1415.80" x2="406.67" y2="1443.30"/><line x1="568.50" y1="1429.70" x2="568.50" y2="1443.30"/><line x1="730.33" y1="1415.80" x2="730.33" y2="1443.30"/><line x1="892.17" y1="1429.70" x2="892.17" y2="1443.30"/><line x1="1054.00" y1="1415.80" x2="1054.00" y2="1443.30"/><line x1="1215.83" y1="1429.70" x2="1215.83" y2="1443.30"/><line x1="1377.67" y1="1415.80" x2="1377.67" y2="1443.30"/><line x1="1539.50" y1="1429.70" x2="1539.50" y2="1443.30"/><line x1="1701.33" y1="1415.80" x2="1701.33" y2="1443.30"/><line x1="1863.17" y1="1429.70" x2="1863.17" y2="1443.30"/></g>
<g font-family="'Liberation Sans', Arial, sans-serif" font-size="63" fill="#000"><text x="0" y="0" text-anchor="middle" transform="translate(83.00,1519.9) scale(0.95,1)">3500</text><text x="0" y="0" text-anchor="middle" transform="translate(406.67,1519.9) scale(0.95,1)">3000</text><text x="0" y="0" text-anchor="middle" transform="translate(730.33,1519.9) scale(0.95,1)">2500</text><text x="0" y="0" text-anchor="middle" transform="translate(1054.00,1519.9) scale(0.95,1)">2000</text><text x="0" y="0" text-anchor="middle" transform="translate(1377.67,1519.9) scale(0.95,1)">1500</text><text x="0" y="0" text-anchor="middle" transform="translate(1701.33,1519.9) scale(0.95,1)">1000</text><text x="0" y="0" text-anchor="middle" transform="translate(2025.00,1519.9) scale(0.95,1)">500</text></g>
<text x="756" y="1602" font-family="'Liberation Serif', 'Times New Roman', serif" font-size="74" fill="#000">Wavenumber <tspan dx="7.5">(cm</tspan><tspan font-size="44" dy="-37">-1</tspan><tspan dy="37" dx="1">)</tspan></text>
<text x="677" y="490" font-family="'Liberation Serif', 'Times New Roman', serif" font-size="74.7" fill="#000">TCH+Cu<tspan font-size="44" dy="-37">2+</tspan></text>
<text x="711" y="981.5" font-family="'Liberation Serif', 'Times New Roman', serif" font-size="75.5" fill="#000">TCH</text>
<text x="710" y="1283.6" font-family="'Liberation Serif', 'Times New Roman', serif" font-size="75" fill="#000">Chalcopyrite</text>
<text x="713" y="1409" font-family="'Liberation Serif', 'Times New Roman', serif" font-size="75" fill="#000">Chalcopyrite+TCH</text></svg>
</body></html>
